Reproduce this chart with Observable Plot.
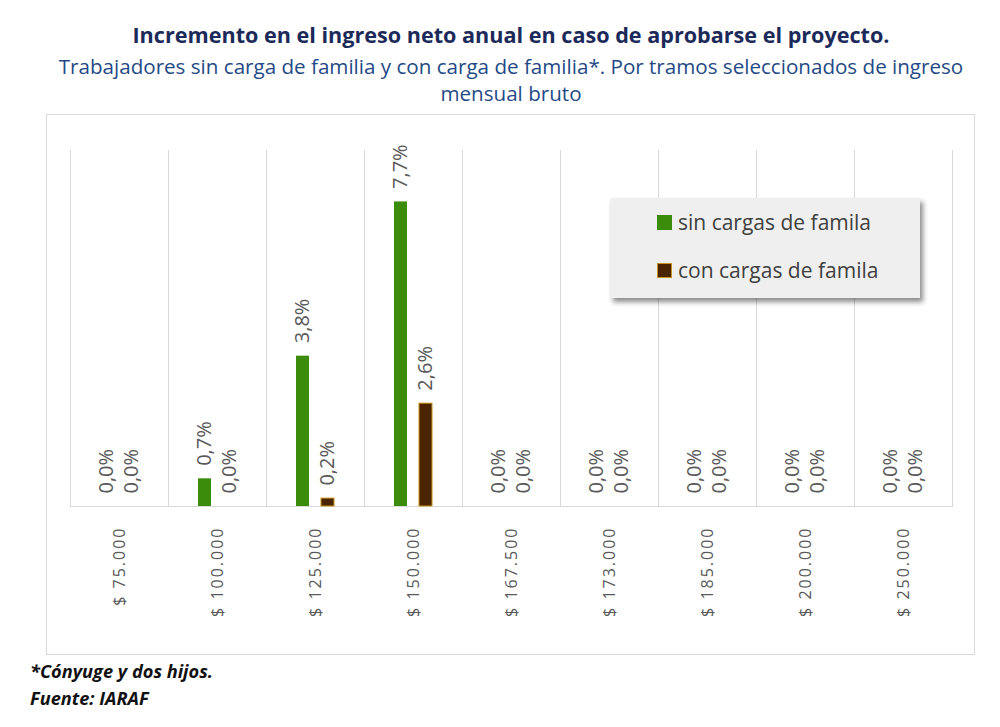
<!DOCTYPE html>
<html>
<head>
<meta charset="utf-8">
<script src="https://cdn.jsdelivr.net/npm/d3@7"></script>
<script src="https://cdn.jsdelivr.net/npm/@observablehq/plot@0.6"></script>
<style>
  html, body { margin: 0; padding: 0; background: #fff; }
  body { width: 1000px; height: 727px; position: relative; overflow: hidden; font-family: "Open Sans", sans-serif; }
  #title { position: absolute; left: 22px; width: 978px; top: 20px; text-align: center; font-weight: bold; font-size: 21.6px; color: #1c2a5a; white-space: nowrap; }
  #subtitle { position: absolute; left: 22px; width: 978px; top: 53px; text-align: center; font-size: 20.6px; line-height: 27px; color: #1f4a86; white-space: nowrap; }
  #frame { position: absolute; left: 46px; top: 114px; width: 929px; height: 541px; border: 1px solid #d9d9d9; box-sizing: border-box; }
  #chart { position: absolute; left: 0; top: 0; }
  #chart svg { max-width: none !important; }
  #legend { position: absolute; left: 610px; top: 198px; width: 310px; height: 100px; background: #efefef; box-shadow: 3px 4px 5px rgba(0,0,0,0.45); }
  .item { position: absolute; left: 47px; font-size: 21px; color: #404040; display: flex; align-items: center; }
  .sw { width: 15px; height: 15px; margin-right: 6px; box-sizing: border-box; }
  #notes { position: absolute; left: 30px; top: 658px; font-size: 18.2px; font-weight: bold; font-style: italic; color: #111; line-height: 27px; }
  g[aria-label="fx-axis tick label"] { letter-spacing: 2px; }
</style>
</head>
<body>
<div id="title">Incremento en el ingreso neto anual en caso de aprobarse el proyecto.</div>
<div id="subtitle">Trabajadores sin carga de familia y con carga de familia*. Por tramos seleccionados de ingreso<br>mensual bruto</div>
<div id="frame"><div id="chart"></div></div>
<div id="legend"></div>
<div id="notes">*Cónyuge y dos hijos.<br>Fuente: IARAF</div>
<script>
const categories = ["$ 75.000", "$ 100.000", "$ 125.000", "$ 150.000", "$ 167.500", "$ 173.000", "$ 185.000", "$ 200.000", "$ 250.000"];
const series = ["sin cargas de famila", "con cargas de famila"];
const sinCargas = [0.0, 0.7, 3.8, 7.7, 0.0, 0.0, 0.0, 0.0, 0.0];
const conCargas = [0.0, 0.0, 0.2, 2.6, 0.0, 0.0, 0.0, 0.0, 0.0];
const colors = ["#3c8c0c", "#4a2400"];

const rowsSin = categories.map((c, i) => ({cat: c, serie: series[0], value: sinCargas[i]}));
const rowsCon = categories.map((c, i) => ({cat: c, serie: series[1], value: conCargas[i]}));
const rows = rowsSin.concat(rowsCon);
const fmt = v => d3.format(".1f")(v).replace(".", ",") + "%";

const chart = Plot.plot({
  width: 929,
  height: 541,
  marginLeft: 20,
  marginRight: 21,
  marginTop: 35,
  marginBottom: 150,
  style: {fontFamily: "Open Sans, sans-serif", background: "transparent", overflow: "visible"},
  fx: {domain: categories, padding: 0, label: null},
  x: {domain: series, paddingInner: 0.48, paddingOuter: 1.2, axis: null},
  y: {domain: [0, 9], axis: null},
  marks: [
    Plot.frame({anchor: "left", stroke: "#d9d9d9"}),
    Plot.frame({anchor: "right", stroke: "#d9d9d9"}),
    Plot.ruleY([0], {stroke: "#d9d9d9"}),
    Plot.barY(rowsSin, {fx: "cat", x: "serie", y: "value", fill: colors[0]}),
    Plot.barY(rowsCon, {fx: "cat", x: "serie", y: "value", fill: colors[1], stroke: "#c8921e", strokeWidth: 1}),
    Plot.text(rows, {fx: "cat", x: "serie", y: "value", text: d => fmt(d.value), rotate: -90, textAnchor: "start", dy: -13, fontSize: 20, fill: "#595959"}),
    Plot.axisFx({anchor: "bottom", tickRotate: -90, tickSize: 0, tickPadding: 20, label: null, fontSize: 16, color: "#595959"})
  ]
});
document.getElementById("chart").appendChild(chart);

const legend = document.getElementById("legend");
series.forEach((s, i) => {
  const item = document.createElement("div");
  item.className = "item";
  item.style.top = (10 + i * 48) + "px";
  const sw = document.createElement("span");
  sw.className = "sw";
  sw.style.background = colors[i];
  if (i === 1) sw.style.border = "1px solid #c8921e";
  const t = document.createElement("span");
  t.textContent = s;
  item.appendChild(sw);
  item.appendChild(t);
  legend.appendChild(item);
});
</script>
</body>
</html>
